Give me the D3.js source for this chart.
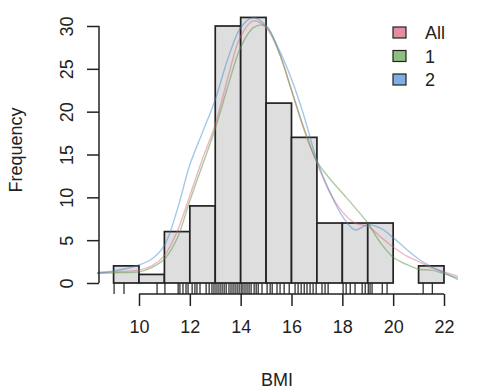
<!DOCTYPE html>
<html><head><meta charset="utf-8">
<script src="https://cdn.jsdelivr.net/npm/d3@7"></script>
<style>body{margin:0;background:#fff}svg{display:block;font-family:"Liberation Sans",Arial,sans-serif}</style>
</head><body><svg id="c" width="480" height="390"></svg>
<script>
// Histogram bins (BMI lower edge) and counts
const binStarts = [9,10,11,12,13,14,15,16,17,18,19,20,21];
const counts    = [2,1,6,9,30,31,21,17,7,7,7,0,2];
// Rug of individual BMI values
const rugValues = [9.02,9.41,10.71,11.02,11.54,11.61,11.73,11.85,11.93,12.09,12.20,12.28,12.40,12.64,12.76,12.87,12.95,13.03,13.11,13.19,13.27,13.35,13.43,13.54,13.62,13.70,13.78,13.86,13.94,14.02,14.09,14.17,14.25,14.33,14.41,14.53,14.61,14.69,14.84,15.04,15.16,15.24,15.43,15.55,15.71,15.91,16.14,16.26,16.38,16.50,16.61,16.73,16.85,16.97,17.20,17.32,17.44,18.03,18.15,18.31,18.50,18.78,18.90,19.02,19.09,19.17,19.57,19.76,21.18,21.54];
// Density curves (scaled to frequency)
const curveX = [8.35,9,10,10.5,11,11.5,12,12.5,13,13.5,14,14.5,15,15.5,16,16.5,17,17.5,18,18.5,19,19.5,20,20.5,21,21.5,22,22.55];
const densAll = [1.2,1.3,1.5,2.0,3.2,6.0,10.2,14.5,18.5,24.0,28.8,30.6,29.8,27.0,22.5,17.8,14.0,10.6,8.3,7.0,6.6,5.4,4.2,3.2,2.5,1.8,1.3,0.8];
const dens1   = [1.1,1.2,1.3,1.8,2.8,5.2,9.6,13.8,18.0,23.0,27.5,29.8,30.0,27.0,22.5,18.0,14.2,12.2,10.5,8.8,7.0,4.7,3.0,2.2,1.6,1.5,1.1,0.6];
const dens2   = [1.2,1.4,2.1,2.8,4.4,8.5,13.8,17.6,21.4,26.2,29.8,31.0,30.0,27.3,23.8,19.4,14.3,10.7,7.8,6.2,6.8,6.4,5.3,4.0,2.8,1.9,1.2,0.4];
const seriesNames = ["All","1","2"];
const lineColors = ["rgba(215,95,120,0.45)","rgba(90,150,70,0.5)","rgba(60,130,200,0.45)"];
const legendFills = ["#E48DA0","#8DBF80","#82ADE0"];
const xTicks = [10,12,14,16,18,20,22];
const yTicks = [0,5,10,15,20,25,30];

const svg = d3.select("#c");
const x = d3.scaleLinear().domain([10,22]).range([139,444]);
const y = d3.scaleLinear().domain([0,30]).range([283,26]);
const ink = "#222";
const FONT = "Liberation Sans, Arial, sans-serif";

// bars
svg.append("g").selectAll("rect").data(binStarts).join("rect")
  .attr("x", d=>x(d)).attr("width", d=>x(d+1)-x(d))
  .attr("y", (d,i)=>y(counts[i])).attr("height",(d,i)=>y(0)-y(counts[i]))
  .attr("fill","#DEDEDE").attr("stroke",ink).attr("stroke-width",1.7);

// density lines
const line = d3.line().x((d,i)=>x(curveX[i])).y(d=>y(d)).curve(d3.curveCatmullRom.alpha(0.5));
[densAll,dens1,dens2].forEach((s,k)=>{
  svg.append("path").attr("d",line(s)).attr("fill","none")
    .attr("stroke",lineColors[k]).attr("stroke-width",1.4);
});

// rug
svg.append("g").selectAll("line").data(rugValues).join("line")
  .attr("x1",d=>x(d)).attr("x2",d=>x(d)).attr("y1",283).attr("y2",294)
  .attr("stroke",ink).attr("stroke-width",1.2);

// x axis
const xa = svg.append("g").attr("transform","translate(0,294)")
  .call(d3.axisBottom(x).tickValues(xTicks).tickSize(12).tickPadding(14).tickFormat(d3.format("d")));
xa.select(".domain").attr("stroke",ink).attr("stroke-width",1.5).attr("d",`M${x(10)},0H${x(22)}`);
xa.selectAll(".tick line").attr("stroke",ink).attr("stroke-width",1.5);
xa.selectAll(".tick text").attr("fill",ink).attr("font-size",18).attr("font-family",FONT);

// y axis
const ya = svg.append("g").attr("transform","translate(99,0)")
  .call(d3.axisLeft(y).tickValues(yTicks).tickSize(12).tickFormat(d3.format("d")));
ya.select(".domain").attr("stroke",ink).attr("stroke-width",1.5).attr("d",`M0,${y(0)}V${y(30)}`);
ya.selectAll(".tick line").attr("stroke",ink).attr("stroke-width",1.5);
ya.selectAll(".tick text").attr("fill",ink).attr("font-size",18).attr("font-family",FONT)
  .attr("x",null).attr("dy",null).attr("text-anchor","middle")
  .attr("transform","translate(-32,0) rotate(-90)").attr("dominant-baseline","central");

// axis titles
svg.append("text").attr("transform",`translate(16,150) rotate(-90)`).attr("text-anchor","middle")
  .attr("dominant-baseline","central").attr("font-size",18).attr("fill",ink).text("Frequency");
svg.append("text").attr("x",277).attr("y",386).attr("text-anchor","middle")
  .attr("font-size",18).attr("fill",ink).text("BMI");

// legend
const lg = svg.append("g");
seriesNames.forEach((n,i)=>{
  const yy = 27 + i*23.5;
  lg.append("rect").attr("x",393).attr("y",yy).attr("width",13).attr("height",11)
    .attr("fill",legendFills[i]).attr("stroke",ink).attr("stroke-width",1.2);
  lg.append("text").attr("x",425).attr("y",yy+6).attr("dominant-baseline","central")
    .attr("font-size",18).attr("fill",ink).text(n);
});
</script></body></html>
